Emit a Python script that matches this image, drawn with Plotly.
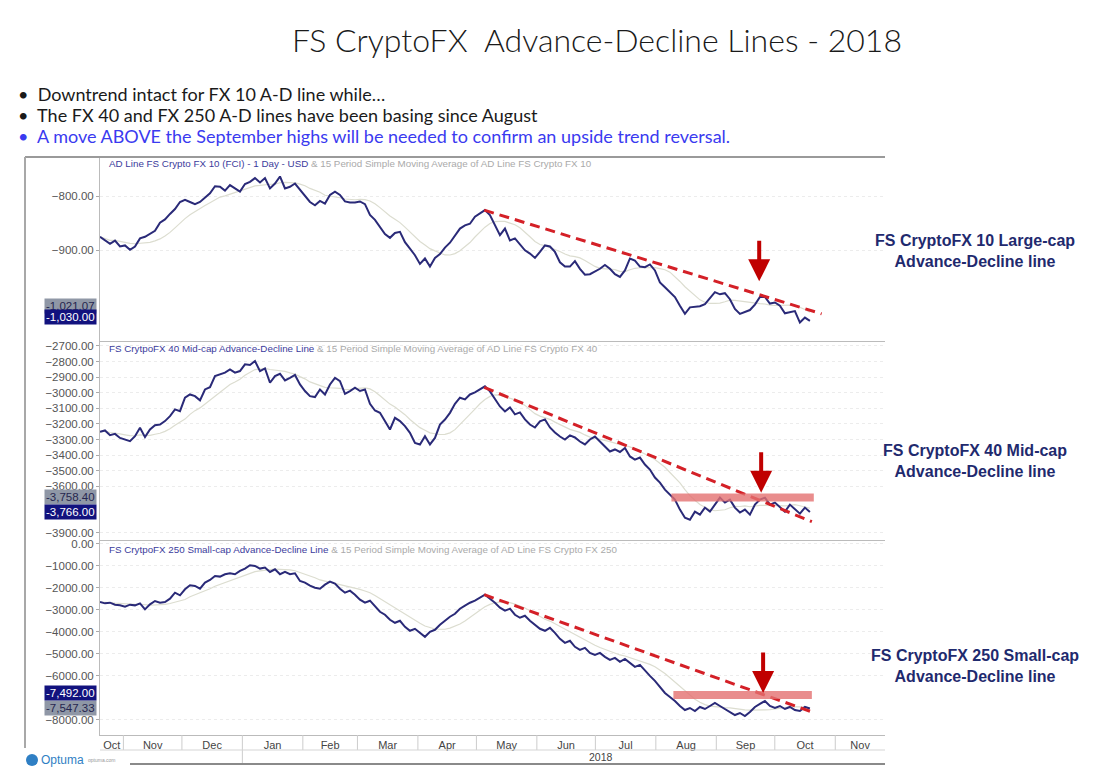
import pandas as pd
import plotly.graph_objects as go
from plotly.subplots import make_subplots

# ---------------- data ----------------
start_date = "2017-10-20"
end_date = "2018-10-19"

fx10 = [
    -875, -882, -888, -882, -893, -891, -899, -893, -878, -875,
    -869, -864, -849, -843, -833, -824, -811, -807, -811, -815,
    -811, -803, -795, -782, -783, -790, -780, -786, -792, -778,
    -774, -767, -775, -767, -786, -777, -764, -786, -783, -777,
    -789, -801, -811, -817, -809, -814, -798, -792, -798, -810,
    -812, -812, -810, -815, -835, -844, -856, -870, -877, -868,
    -866, -885, -897, -909, -925, -915, -930, -914, -907, -895,
    -886, -874, -860,
    -854, -851, -838, -832, -826, -835, -854, -872, -860, -882,
    -878, -888, -900, -906, -914, -903, -891, -893, -903, -922,
    -930, -930, -920, -934, -945, -944, -939, -934, -927, -934,
    -944, -949, -937, -915, -919, -930, -931, -926, -937, -959,
    -968, -977, -986, -1002, -1017, -1005, -1004, -1003, -999, -988,
    -977, -981, -979, -990, -1008, -1017, -1014, -1010, -1000, -986,
    -986, -998, -996, -1002, -1016, -1014, -1012, -1033, -1024, -1030,
]

fx40 = [
    -3251, -3242, -3272, -3264, -3290, -3300, -3311, -3279, -3225, -3285,
    -3236, -3208, -3204, -3182, -3150, -3107, -3118, -3032, -3011, -3022,
    -3049, -2979, -2964, -2893, -2882, -2871, -2850, -2871, -2861, -2818,
    -2822, -2796, -2861, -2844, -2936, -2893, -2878, -2921, -2904, -2886,
    -2947, -2989, -3022, -3028, -2979, -3011, -2947, -2904, -2925, -3007,
    -2989, -2968, -2989, -2979, -3071, -3114, -3129, -3182, -3236, -3161,
    -3182, -3214, -3257, -3322, -3332, -3279, -3332, -3290, -3204, -3172,
    -3129, -3071, -3032,
    -3043, -3011, -2998, -2978, -2959, -2991, -3043, -3088, -3120, -3094,
    -3139, -3126, -3171, -3204, -3223, -3184, -3171, -3223, -3255, -3281,
    -3300, -3274, -3287, -3313, -3332, -3300, -3281, -3313, -3345, -3377,
    -3364, -3380, -3355, -3409, -3429, -3416, -3461, -3493, -3544, -3577,
    -3622, -3654, -3686, -3750, -3802, -3815, -3763, -3782, -3737, -3763,
    -3718, -3673, -3705, -3686, -3737, -3769, -3750, -3782, -3718, -3686,
    -3673, -3718, -3705, -3737, -3763, -3718, -3750, -3776, -3737, -3766,
]

fx250 = [
    -2644, -2705, -2674, -2766, -2796, -2857, -2766, -2796, -2705, -2979,
    -2750, -2598, -2674, -2644, -2492, -2218, -2339, -2065, -1883, -1913,
    -2035, -1761, -1639, -1457, -1487, -1381, -1335, -1381, -1228, -1122,
    -970, -1000, -1122, -1076, -1274, -1152, -1381, -1274, -1381, -1335,
    -1685,
    -1762, -1900, -1991, -2036, -1854, -1717, -1808, -2036, -2219, -2128,
    -2310, -2539, -2676, -2584, -2858, -3087, -3224, -3452, -3589, -3498,
    -3772, -3954, -3863, -4046, -4228, -4000, -3909, -3680, -3498, -3315,
    -3178, -2950, -2813, -2676, -2584, -2447, -2310, -2493, -2676, -2904,
    -3041, -2950, -3224, -3361, -3269, -3498, -3680, -3863, -3954, -3817,
    -4046, -4319, -4502, -4411, -4685, -4822, -4730, -4959, -5050, -4959,
    -5141, -5278, -5187, -5370, -5233, -5415, -5598, -5507, -5781, -6009,
    -6237, -6511, -6785, -6968, -7150, -7379, -7561, -7470, -7607, -7424,
    -7516, -7379, -7242, -7379, -7516, -7653, -7790, -7698, -7835, -7653,
    -7424, -7287, -7150, -7379, -7470, -7379, -7516, -7424, -7561, -7607,
    -7424, -7492,
]

series_titles = [
    ("AD Line FS Crypto FX 10 (FCI) - 1 Day - USD", " &amp; 15 Period Simple Moving Average of AD Line FS Crypto FX 10"),
    ("FS CrytpoFX 40 Mid-cap Advance-Decline Line", " &amp; 15 Period Simple Moving Average of AD Line FS Crypto FX 40"),
    ("FS CrytpoFX 250 Small-cap Advance-Decline Line", " &amp; 15 Period Simple Moving Average of AD Line FS Crypto FX 250"),
]
right_labels = [
    "FS CryptoFX 10 Large-cap<br>Advance-Decline line",
    "FS CryptoFX 40 Mid-cap<br>Advance-Decline line",
    "FS CryptoFX 250 Small-cap<br>Advance-Decline line",
]

last_values = [-1030.00, -3766.00, -7492.00]
ma_last_values = [-1021.07, -3758.40, -7547.33]

trend_dates = [("2018-05-05", "2018-10-25"), ("2018-05-05", "2018-10-20"), ("2018-05-05", "2018-10-20")]
trend_values = [(-826, -1017), (-2966, -3827), (-2310, -7650)]

band_panels = [2, 3]
band_dates = [("2018-08-09", "2018-10-21"), ("2018-08-10", "2018-10-20")]
band_values = [-3673, -6877]

arrow_dates = ["2018-09-23", "2018-09-24", "2018-09-25"]
arrow_values = [-957, -3641, -6785]

y_ranges = [[-1067, -730], [-3945, -2668], [-8700, 180]]
y_ticks = [
    [-800, -900],
    [-2700, -2800, -2900, -3000, -3100, -3200, -3300, -3400, -3500, -3600, -3900],
    [0, -1000, -2000, -3000, -4000, -5000, -6000, -8000],
]

month_labels = ["Oct", "Nov", "Dec", "Jan", "Feb", "Mar", "Apr", "May",
                "Jun", "Jul", "Aug", "Sep", "Oct", "Nov"]
x_range = [pd.Timestamp("2017-10-20"), pd.Timestamp("2018-11-26 12:00")]
year_label = "2018"

title_text = "FS CryptoFX  Advance-Decline Lines - 2018"
bullets = [
    ("Downtrend intact for FX 10 A-D line while…", "#1a1a1a"),
    ("The FX 40 and FX 250 A-D lines have been basing since August", "#1a1a1a"),
    ("A move ABOVE the September highs will be needed to confirm an upside trend reversal.", "#3a3af0"),
]

# ---------------- figure ----------------
dates = pd.date_range(start_date, end_date, periods=len(fx10))
all_series = [fx10, fx40, fx250]

OFF = 8  # page body margin
W, H = 1117 - OFF, 776 - OFF
ML, MT = 100 - OFF, 158 - OFF
MR, MB = 1117 - 885, 776 - 735
PW, PH = W - ML - MR, H - MT - MB


def px_x(p):
    return (p - OFF - ML) / PW


def px_y(p):
    return (H - MB - (p - OFF)) / PH


fig = make_subplots(rows=3, cols=1, shared_xaxes=True, vertical_spacing=0,
                    row_heights=[183, 199, 195])

LINE = "#2a2a78"
MA_COL = "#dcddd0"
for i, vals in enumerate(all_series):
    s = pd.Series(vals, index=dates)
    ma = s.rolling("21D", min_periods=1).mean()
    fig.add_trace(go.Scatter(x=dates, y=ma.values, mode="lines",
                             line=dict(color=MA_COL, width=1.2), hoverinfo="skip"),
                  row=i + 1, col=1)
    fig.add_trace(go.Scatter(x=dates, y=vals, mode="lines",
                             line=dict(color=LINE, width=2)),
                  row=i + 1, col=1)

# month tick positions (middle of each visible month)
month_starts = pd.date_range("2017-10-01", "2018-11-01", freq="MS")
tickvals = []
for ms in month_starts:
    a = max(ms, x_range[0])
    b = min(ms + pd.offsets.MonthBegin(1), x_range[1])
    tickvals.append(a + (b - a) / 2)

axis_font = dict(family="Liberation Sans, Arial", size=11.5, color="#555")
for i in range(3):
    fig.update_yaxes(range=y_ranges[i], tickmode="array", tickvals=y_ticks[i],
                     tickformat=".2f", ticks="outside", ticklen=3, tickcolor="#aaa",
                     showline=True, linecolor="#bbbbbb", linewidth=1,
                     showgrid=True, gridcolor="#ececec", griddash="dot",
                     zeroline=False, tickfont=axis_font, row=i + 1, col=1)
    fig.update_xaxes(range=x_range, showline=True, linecolor="#bbbbbb", linewidth=1,
                     showgrid=False, zeroline=False, row=i + 1, col=1)

fig.update_xaxes(tickmode="array", tickvals=tickvals, ticktext=month_labels,
                 ticks="", showticklabels=True,
                 tickfont=dict(family="Liberation Sans, Arial", size=11, color="#444"),
                 row=3, col=1)

shapes = []
annotations = []

# trend lines
for i in range(3):
    xr = "x" if i == 0 else f"x{i + 1}"
    yr = "y" if i == 0 else f"y{i + 1}"
    shapes.append(dict(type="line", xref=xr, yref=yr,
                       x0=trend_dates[i][0], x1=trend_dates[i][1],
                       y0=trend_values[i][0], y1=trend_values[i][1],
                       line=dict(color="#d42027", width=3, dash="10px,6px")))
# resistance bands
for p, bd, bv in zip(band_panels, band_dates, band_values):
    shapes.append(dict(type="line", xref=f"x{p}", yref=f"y{p}",
                       x0=bd[0], x1=bd[1], y0=bv, y1=bv,
                       line=dict(color="rgba(228,112,112,0.8)", width=8)))
# arrows
for i in range(3):
    xr = "x" if i == 0 else f"x{i + 1}"
    yr = "y" if i == 0 else f"y{i + 1}"
    annotations.append(dict(xref=xr, yref=yr, x=arrow_dates[i], y=arrow_values[i],
                            ax=0, ay=-42, text="", showarrow=True, arrowhead=2,
                            arrowsize=1.1, arrowwidth=4, arrowcolor="#c00000", standoff=0))

# value tags
tag_font = dict(family="Liberation Sans, Arial", size=11.5)
tag_shifts = [(4, 10), (0, 14), (15, 2)]
for i in range(3):
    yr = "y" if i == 0 else f"y{i + 1}"
    annotations.append(dict(xref="paper", yref=yr, x=px_x(97), y=ma_last_values[i],
                            xanchor="right", yanchor="middle", showarrow=False,
                            text=f"{ma_last_values[i]:,.2f}", bgcolor="#8f97a6",
                            font=dict(color="#26264f", **tag_font),
                            yshift=tag_shifts[i][1], borderpad=1))
    annotations.append(dict(xref="paper", yref=yr, x=px_x(97), y=last_values[i],
                            xanchor="right", yanchor="middle", showarrow=False,
                            text=f"{last_values[i]:,.2f}", bgcolor="#12127e",
                            font=dict(color="white", **tag_font),
                            yshift=tag_shifts[i][0], borderpad=1))

# panel headers
header_y = [163, 348, 549]
for i in range(3):
    a, b = series_titles[i]
    annotations.append(dict(xref="paper", yref="paper", x=px_x(107), y=px_y(header_y[i]),
                            xanchor="left", yanchor="middle", showarrow=False,
                            text=f"<span style='color:#3b3b9c'>{a}</span><span style='color:#aaaaaa'>{b}</span>",
                            font=dict(family="Liberation Sans, Arial", size=9.8)))

# right labels
label_y = [251, 461, 666]
for i in range(3):
    annotations.append(dict(xref="paper", yref="paper", x=px_x(975), y=px_y(label_y[i]),
                            xanchor="center", yanchor="middle", showarrow=False,
                            text=f"<b>{right_labels[i]}</b>",
                            font=dict(family="Liberation Sans, Arial", size=16, color="#1f2a6e")))

# title and bullets
annotations.append(dict(xref="paper", yref="paper", x=px_x(597), y=px_y(40),
                        xanchor="center", yanchor="middle", showarrow=False,
                        text=title_text,
                        font=dict(family="Lato", size=32, color="#1a1a1a", weight=300)))
bullet_y = [94, 115, 136]
for (t, c), by in zip(bullets, bullet_y):
    annotations.append(dict(xref="paper", yref="paper", x=px_x(16), y=px_y(by),
                            xanchor="left", yanchor="middle", showarrow=False,
                            text=f"•  {t}",
                            font=dict(family="Lato", size=18, color=c)))

# x-axis strip separators
for ms in month_starts[1:]:
    long = ms == pd.Timestamp("2018-01-01")
    shapes.append(dict(type="line", xref="x3", yref="paper", x0=ms, x1=ms,
                       y0=0, y1=px_y(764 if long else 750),
                       line=dict(color="#cccccc", width=1)))
shapes.append(dict(type="line", xref="paper", yref="paper", x0=0, x1=1,
                   y0=px_y(750), y1=px_y(750), line=dict(color="#d5d5d5", width=1)))
shapes.append(dict(type="line", xref="paper", yref="paper", x0=px_x(130), x1=1,
                   y0=px_y(764), y1=px_y(764), line=dict(color="#8a8a8a", width=2)))
annotations.append(dict(xref="x3", yref="paper", x="2018-07-04", y=px_y(757),
                        xanchor="center", yanchor="middle", showarrow=False, text=year_label,
                        font=dict(family="Liberation Sans, Arial", size=10.5, color="#444")))

# frame
shapes.append(dict(type="line", xref="paper", yref="paper", x0=px_x(25), x1=1,
                   y0=px_y(157), y1=px_y(157), line=dict(color="#9a9a9a", width=2)))
shapes.append(dict(type="line", xref="paper", yref="paper", x0=px_x(25), x1=px_x(25),
                   y0=px_y(157), y1=px_y(748), line=dict(color="#a8a8a8", width=2)))

# logo
shapes.append(dict(type="circle", xref="paper", yref="paper",
                   x0=px_x(26), x1=px_x(38), y0=px_y(766), y1=px_y(754),
                   fillcolor="#2f7fc4", line=dict(width=0)))
annotations.append(dict(xref="paper", yref="paper", x=px_x(39), y=px_y(760),
                        xanchor="left", yanchor="middle", showarrow=False,
                        text="Optuma",
                        font=dict(family="Liberation Sans, Arial", size=12, color="#2f7fc4")))
annotations.append(dict(xref="paper", yref="paper", x=px_x(86), y=px_y(760),
                        xanchor="left", yanchor="middle", showarrow=False,
                        text="optuma.com",
                        font=dict(family="Liberation Sans, Arial", size=5, color="#999")))

fig.update_layout(width=W, height=H, margin=dict(l=ML, r=MR, t=MT, b=MB, pad=0),
                  paper_bgcolor="white", plot_bgcolor="white", showlegend=False,
                  shapes=shapes, annotations=annotations, hovermode=False)

fig.write_html("out.html")
